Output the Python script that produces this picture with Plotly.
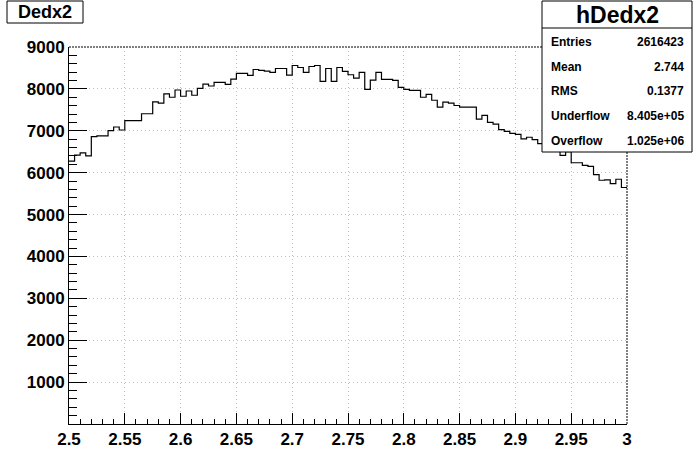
import plotly.graph_objects as go

# ---- data ----
x_min, x_max, n_bins = 2.5, 3.0, 100
counts = [
    6277, 6419, 6474, 6403, 6861, 6877, 6877, 7003, 7090, 7019,
    7240, 7240, 7240, 7406, 7406, 7690, 7658, 7879, 7800, 7974,
    7824, 7950, 7848, 8013, 8116, 8069, 8155, 8155, 8108, 8234,
    8369, 8369, 8321, 8463, 8440, 8424, 8392, 8487, 8487, 8329,
    8558, 8511, 8392, 8534, 8558, 8179, 8487, 8179, 8511, 8416,
    8337, 8258, 8392, 7990, 8211, 8392, 8226, 8226, 8203, 8037,
    7990, 7966, 7966, 7800, 7871, 7729, 7563, 7682, 7658, 7603,
    7563, 7563, 7563, 7279, 7366, 7200, 7161, 7027, 6987, 6940,
    6916, 6806, 6845, 6790, 6695, 6620, 6570, 6520, 6411, 6500,
    6237, 6237, 6174, 6151, 5953, 5819, 5827, 5740, 5843, 5646,
]
x_ticks = [2.5, 2.55, 2.6, 2.65, 2.7, 2.75, 2.8, 2.85, 2.9, 2.95, 3.0]
x_tick_labels = ["2.5", "2.55", "2.6", "2.65", "2.7", "2.75", "2.8", "2.85", "2.9", "2.95", "3"]
y_ticks = [1000, 2000, 3000, 4000, 5000, 6000, 7000, 8000, 9000]
hist_title = "Dedx2"
stats_name = "hDedx2"
stats_labels = ["Entries", "Mean", "RMS", "Underflow", "Overflow"]
stats_values = ["2616423", "2.744", "0.1377", "8.405e+05", "1.025e+06"]

# ---- layout geometry ----
W, H = 696, 472
L, R, T, B = 69, 69, 47, 48
PW, PH = W - L - R, H - T - B


def px(x):
    return (x - L) / PW


def py(y):
    return (H - B - y) / PH


bw = (x_max - x_min) / n_bins
xs = [x_min + i * bw for i in range(n_bins)] + [x_max]
ys = counts + [counts[-1]]

FONT = "Liberation Sans, Arial, Helvetica, sans-serif"

fig = go.Figure()
fig.add_trace(go.Scatter(x=xs, y=ys, mode="lines", line=dict(shape="hv", color="black", width=1.2),
                         hoverinfo="skip", showlegend=False))

axis_common = dict(
    showline=True, linecolor="black", linewidth=1, mirror=False,
    ticks="inside", tickcolor="black", tickwidth=1,
    showgrid=True, gridcolor="#c0c0c0", griddash="1px,3px", gridwidth=1,
    zeroline=False,
    tickfont=dict(family=FONT, size=17, color="black", weight="bold"),
)

fig.update_xaxes(range=[x_min, x_max], tickmode="array", tickvals=x_ticks, ticktext=x_tick_labels,
                 ticklen=11, minor=dict(ticks="inside", ticklen=5, dtick=0.01, tick0=2.5, tickcolor="black",
                                        showgrid=False),
                 **axis_common)
fig.update_yaxes(range=[0, 9000], tickmode="array", tickvals=y_ticks,
                 ticklen=18, minor=dict(ticks="inside", ticklen=8, dtick=200, tick0=0, tickcolor="black",
                                        showgrid=False),
                 **axis_common)

shapes = [
    # top & right frame (dotted)
    dict(type="line", xref="paper", yref="paper", x0=0, x1=1, y0=1, y1=1,
         line=dict(color="black", width=1, dash="2px,1px")),
    dict(type="line", xref="paper", yref="paper", x0=1, x1=1, y0=0, y1=1,
         line=dict(color="black", width=1, dash="2px,1px")),
    # title box
    dict(type="rect", xref="paper", yref="paper", x0=px(7), x1=px(83), y0=py(23), y1=py(1),
         line=dict(color="black", width=1), fillcolor="white"),
    # stats box
    dict(type="rect", xref="paper", yref="paper", x0=px(542), x1=px(692), y0=py(152), y1=py(1),
         line=dict(color="black", width=1), fillcolor="white"),
    dict(type="line", xref="paper", yref="paper", x0=px(542), x1=px(692), y0=py(28), y1=py(28),
         line=dict(color="black", width=1)),
]

annotations = [
    dict(text=hist_title, xref="paper", yref="paper", x=px(45), y=py(12), showarrow=False,
         xanchor="center", yanchor="middle", font=dict(family=FONT, size=18, color="black", weight="bold")),
    dict(text=stats_name, xref="paper", yref="paper", x=px(617), y=py(15), showarrow=False,
         xanchor="center", yanchor="middle", font=dict(family=FONT, size=23, color="black", weight="bold")),
]
row_y = [42, 67, 91, 116, 141]
for lab, val, yy in zip(stats_labels, stats_values, row_y):
    annotations.append(dict(text=lab, xref="paper", yref="paper", x=px(549), y=py(yy), showarrow=False,
                            xanchor="left", yanchor="middle",
                            font=dict(family=FONT, size=12, color="black", weight="bold")))
    annotations.append(dict(text=val, xref="paper", yref="paper", x=px(686), y=py(yy), showarrow=False,
                            xanchor="right", yanchor="middle",
                            font=dict(family=FONT, size=12, color="black", weight="bold")))

fig.update_layout(
    width=W, height=H, autosize=False,
    margin=dict(l=L, r=R, t=T, b=B, pad=0),
    paper_bgcolor="white", plot_bgcolor="white",
    shapes=shapes, annotations=annotations, showlegend=False,
)

fig.write_html("out.html", config={"displayModeBar": False, "staticPlot": True},
               post_script="document.body.style.margin='0';document.body.style.padding='0';")
